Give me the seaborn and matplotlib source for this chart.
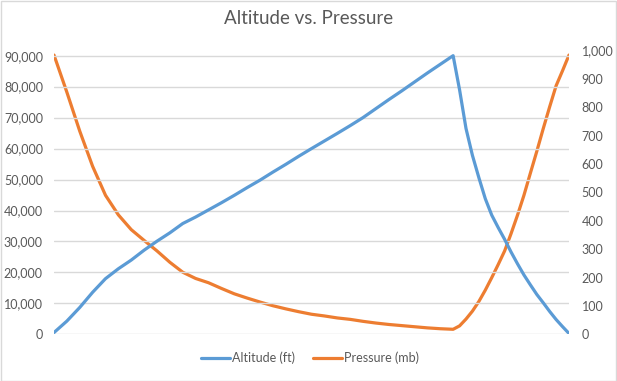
import numpy as np
import pandas as pd
import matplotlib
matplotlib.use('Agg')
import matplotlib.pyplot as plt
import seaborn as sns

# flight samples (denser sampling during the descent)
elapsed = list(range(31)) + [31, 31.5, 32, 32.5, 33, 33.5, 34, 34.5, 35, 35.5,
                             36, 36.5, 37, 37.5, 38, 38.5, 39, 39.5, 40]
altitude_ft = [600, 4300, 8700, 13600, 18000, 21200, 24000, 27200, 30100, 32800,
               35800, 37900, 40200, 42500, 44900, 47400, 49800, 52400, 54900, 57500,
               60000, 62450, 64900, 67400, 70000, 72900, 75800, 78600, 81500, 84400,
               87200,
               90000, 79000, 66500, 57800, 50600, 43800, 38500, 34500, 30700, 26600,
               22800, 19200, 16000, 12900, 10200, 7400, 4800, 2500, 300]
pressure_mb = [984, 853, 716, 592, 490, 421, 369, 331, 294, 254,
               219, 197, 182, 162, 143, 128, 114, 101, 90, 80,
               71, 65, 58, 53, 46, 40, 35, 31, 27, 23,
               20,
               18, 30, 54, 82, 116, 156, 200, 246, 294, 355,
               420, 490, 568, 645, 725, 802, 876, 929, 984]

left_ticks = list(range(0, 90001, 10000))
right_ticks = list(range(0, 1001, 100))

BLUE = '#5B9BD5'
ORANGE = '#ED7D31'
GREY = '#595959'
GRID = '#D9D9D9'

df = pd.DataFrame({'elapsed': elapsed, 'altitude': altitude_ft, 'pressure': pressure_mb})

sns.set_style('white')
plt.rcParams['font.family'] = ['Lato', 'DejaVu Sans']

fig = plt.figure(figsize=(6.17, 3.81), dpi=100)
ax = fig.add_axes([54 / 617, (381 - 334.4) / 381, 515 / 617, 283.9 / 381])
ax2 = ax.twinx()

line_kw = dict(linewidth=2.3, solid_joinstyle='round', solid_capstyle='round')
sns.lineplot(data=df, x='elapsed', y='altitude', ax=ax, color=BLUE, label='Altitude (ft)', **line_kw)
sns.lineplot(data=df, x='elapsed', y='pressure', ax=ax2, color=ORANGE, label='Pressure (mb)', **line_kw)

ax.set_xlim(0, 40)
ax.set_ylim(0, 91670)
ax2.set_ylim(0, 1000)
ax.set_yticks(left_ticks)
ax2.set_yticks(right_ticks)
ax.set_yticklabels([f'{v:,}' for v in left_ticks])
ax2.set_yticklabels([f'{v:,}' for v in right_ticks])
ax.set_xticks([])
ax.set_xlabel('')
ax.set_ylabel('')
ax2.set_ylabel('')

# light horizontal gridlines only, no spines
ax.grid(axis='y', color=GRID, linewidth=1)
ax.set_axisbelow(True)
for a in (ax, ax2):
    for s in a.spines.values():
        s.set_visible(False)
ax.tick_params(axis='y', length=0, pad=8, labelsize=9, labelcolor=GREY)
ax2.tick_params(axis='y', length=0, pad=9, labelsize=9, labelcolor=GREY)
ax.set_zorder(ax2.get_zorder() + 1)
ax.patch.set_visible(False)

h1, l1 = ax.get_legend_handles_labels()
h2, l2 = ax2.get_legend_handles_labels()
ax.get_legend().remove()
ax2.get_legend().remove()
fig.legend(h1 + h2, l1 + l2, loc='center', bbox_to_anchor=(310 / 617, 1 - 358 / 381),
           ncol=2, frameon=False, fontsize=9, handlelength=2.3, handletextpad=0.2,
           columnspacing=1.4, labelcolor=GREY)

fig.text(309 / 617, 1 - 18 / 381, 'Altitude vs. Pressure', ha='center', va='center',
         fontsize=13.5, color=GREY)

# chart-area border
fig.patches.append(plt.Rectangle((0.5 / 617, 0.5 / 381), 1 - 1.5 / 617, 1 - 1.5 / 381,
                                 transform=fig.transFigure, fill=False, edgecolor=GRID, linewidth=1))

fig.savefig('out.png', dpi=100)
